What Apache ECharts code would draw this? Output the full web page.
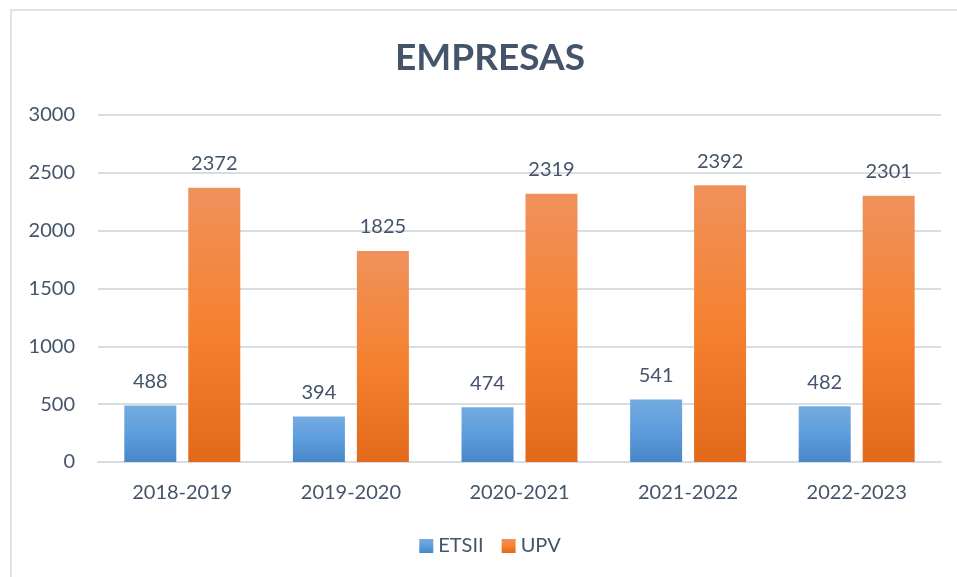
<!DOCTYPE html>
<html>
<head>
<meta charset="utf-8">
<script src="https://cdn.jsdelivr.net/npm/echarts@6/dist/echarts.min.js"></script>
<style>
  html, body { margin: 0; padding: 0; background: #fff; }
  #chart { position: absolute; left: 10px; top: 9px; width: 960px; height: 580px;
           border: 2px solid #dfe3e8; box-sizing: border-box; }
</style>
</head>
<body>
<div id="chart"></div>
<script>
const categories = ['2018-2019', '2019-2020', '2020-2021', '2021-2022', '2022-2023'];
const etsii = [488, 394, 474, 541, 482];
const upv = [2372, 1825, 2319, 2392, 2301];

const textColor = '#44546a';
const font = 'Lato, "Open Sans", sans-serif';

function grad(top, mid, bottom) {
  return new echarts.graphic.LinearGradient(0, 0, 0, 1, [
    { offset: 0, color: top },
    { offset: 0.5, color: mid },
    { offset: 1, color: bottom }
  ]);
}

const chart = echarts.init(document.getElementById('chart'), null, { renderer: 'canvas' });

chart.setOption({
  animation: false,
  textStyle: { fontFamily: font },
  title: {
    text: 'EMPRESAS',
    left: 'center',
    top: 24,
    textStyle: { fontFamily: font, fontSize: 37, fontWeight: 'bold', color: textColor }
  },
  legend: {
    bottom: 26,
    left: 'center',
    itemWidth: 14,
    itemHeight: 14,
    itemGap: 18,
    icon: 'rect',
    textStyle: { fontFamily: font, fontSize: 20, color: textColor },
    data: ['ETSII', 'UPV']
  },
  grid: { left: 86, right: 27, top: 104, bottom: 125 },
  xAxis: {
    type: 'category',
    data: categories,
    axisLine: { lineStyle: { color: '#d9dde3', width: 2 } },
    axisTick: { show: false },
    axisLabel: { fontFamily: font, fontSize: 20, color: textColor, margin: 21 }
  },
  yAxis: {
    type: 'value',
    min: 0,
    max: 3000,
    interval: 500,
    axisLine: { show: false },
    axisTick: { show: false },
    splitLine: { lineStyle: { color: '#d9dde3', width: 2 } },
    axisLabel: { fontFamily: font, fontSize: 20, color: textColor, margin: 23, formatter: v => String(v) }
  },
  series: [
    {
      name: 'ETSII',
      type: 'bar',
      data: etsii,
      barWidth: 52,
      barGap: '23%',
      itemStyle: { color: grad('#74abe0', '#5d9ddd', '#4787c9') },
      label: { show: true, position: 'top', distance: 14, fontFamily: font, fontSize: 20, color: textColor }
    },
    {
      name: 'UPV',
      type: 'bar',
      data: upv,
      barWidth: 52,
      itemStyle: { color: grad('#f0915c', '#f58231', '#e2691a') },
      label: { show: true, position: 'top', distance: 14, fontFamily: font, fontSize: 20, color: textColor }
    }
  ]
});
</script>
</body>
</html>
